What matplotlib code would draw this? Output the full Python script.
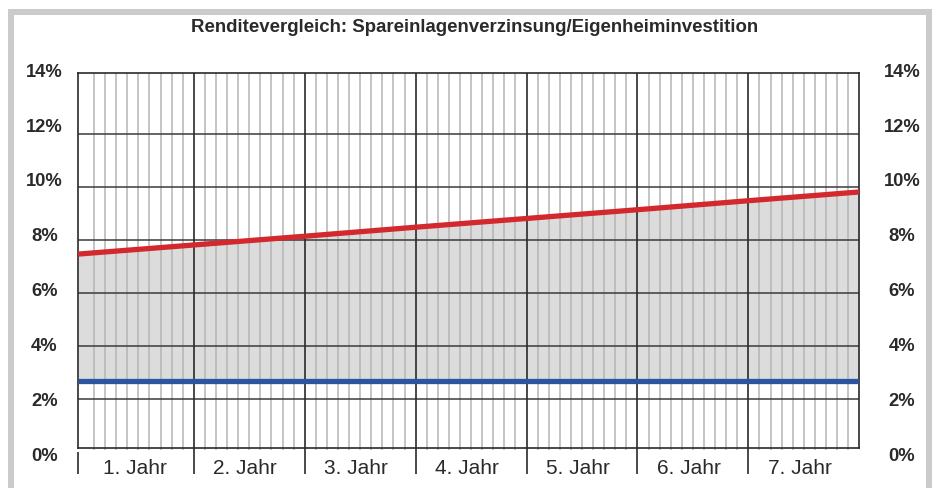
import numpy as np
import matplotlib
matplotlib.use("Agg")
import matplotlib.pyplot as plt
from matplotlib.patches import Rectangle
from matplotlib.transforms import blended_transform_factory

plt.rcParams['font.family'] = ['Liberation Sans', 'DejaVu Sans']

# ---- data ----
title = "Renditevergleich: Spareinlagenverzinsung/Eigenheiminvestition"
jahre = [0, 1, 2, 3, 4, 5, 6, 7]
eigenheim = [7.47, 7.80, 8.13, 8.47, 8.80, 9.13, 9.47, 9.80]
sparzins = [2.68, 2.68, 2.68, 2.68, 2.68, 2.68, 2.68, 2.68]
jahr_labels = ["1. Jahr", "2. Jahr", "3. Jahr", "4. Jahr", "5. Jahr", "6. Jahr", "7. Jahr"]
prozent_ticks = [0, 2, 4, 6, 8, 10, 12, 14]

W, H = 936, 488
fig = plt.figure(figsize=(W / 100, H / 100), dpi=100)
fig.patch.set_facecolor("white")

# outer gray frame
fig.patches.append(Rectangle((11 / W, -0.05), (928.5 - 11) / W, 1.05 - 12 / H,
                             transform=fig.transFigure, fill=False,
                             edgecolor="#cbcbcb", linewidth=4.3, clip_on=False))

ax_l, ax_r, ax_t, ax_b = 78, 859.3, 72.7, 447.7
ax = fig.add_axes([ax_l / W, 1 - ax_b / H, (ax_r - ax_l) / W, (ax_b - ax_t) / H])

xmin, xmax = -0.044, 7.0
ymin, ymax = 0.151, 14.30
ax.set_xlim(xmin, xmax)
ax.set_ylim(ymin, ymax)

# extend series to the left axis edge along their first segment
x = np.array(jahre, dtype=float)
e = np.array(eigenheim)
s = np.array(sparzins)
def extend(vals):
    slope = (vals[1] - vals[0]) / (x[1] - x[0])
    return np.concatenate([[vals[0] + slope * (xmin - x[0])], vals])
xe = np.concatenate([[xmin], x])
ee = extend(e)
se = extend(s)

ax.fill_between(xe, se, ee, color="#dcdcdc", linewidth=0, zorder=1)

# grid
ax.set_xticks([])
ax.set_yticks([])
minor = np.arange(1, 70) / 10.0
for m in minor:
    if abs(m - round(m)) < 1e-6:
        continue
    ax.plot([m, m], [ymin - 0.08, ymax], color="#b4b4b4", lw=1.1, zorder=2, clip_on=False,
            solid_capstyle="butt")
for yv in prozent_ticks[1:-1]:
    ax.axhline(yv, color="#3a3a3a", lw=1.1, zorder=3)
for k in range(1, 7):
    ax.plot([k, k], [ymin, ymax], color="#2a2a2a", lw=1.2, zorder=3)
for sp in ax.spines.values():
    sp.set_color("#2a2a2a")
    sp.set_linewidth(1.2)
    sp.set_zorder(4)

# series
ax.plot(xe, se, color="#2b55a0", lw=3.8, zorder=5, solid_capstyle="butt")
ax.plot(xe, ee, color="#d3282e", lw=3.8, zorder=5, solid_capstyle="butt")

# separators below the axis
trans = ax.get_xaxis_transform()
sep_x = [xmin] + list(range(1, 7))
for i, sx in enumerate(sep_x):
    top = 0 if i > 0 else -4.3 / (ax_b - ax_t)
    ax.plot([sx, sx], [top, -(474 - ax_b) / (ax_b - ax_t)], transform=trans,
            color="#2a2a2a", lw=1.2, clip_on=False, solid_capstyle="butt")

# year labels
for i, lab in enumerate(jahr_labels):
    ax.text(i + 0.465, -(474 - ax_b) / (ax_b - ax_t), lab, transform=trans,
            ha="center", va="baseline", fontsize=15, color="#2a2a2a")

# percent labels on both sides (label scale slightly wider than the grid scale)
def label_pos(v):
    baseline_px = 460.5 - 27.4 * v
    return (451.7 - baseline_px) / 26.5

tl = blended_transform_factory(fig.transFigure, ax.transData)
for p in prozent_ticks:
    for xc in (44.5, 902):
        ax.text(xc / W, label_pos(p), f"{p}%", transform=tl, ha="center",
                va="baseline", fontsize=13.2, fontweight="bold", color="#2a2a2a",
                clip_on=False)

fig.text(474.5 / W, 1 - 32 / H, title, ha="center", va="baseline", fontsize=13.4,
         fontweight="bold", color="#2a2a2a")

fig.savefig("out.png", dpi=100)
